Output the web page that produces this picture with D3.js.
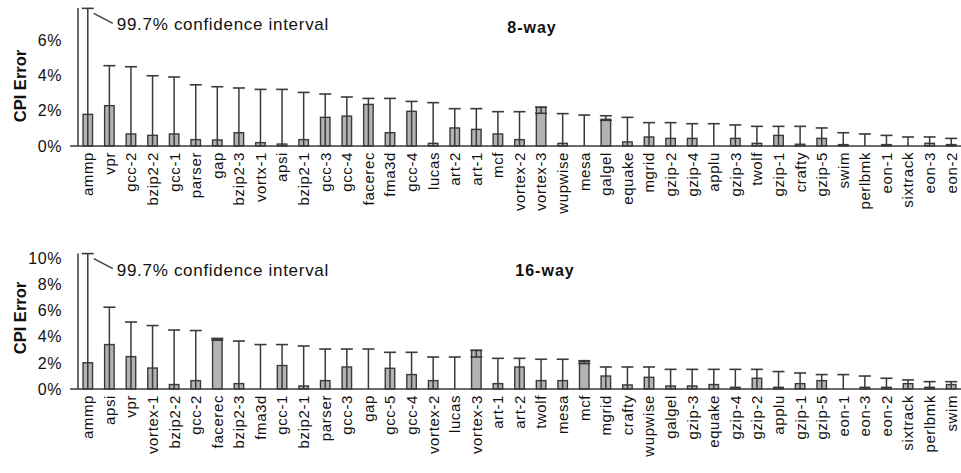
<!DOCTYPE html>
<html>
<head>
<meta charset="utf-8">
<script src="https://cdn.jsdelivr.net/npm/d3@7"></script>
<style>
  body { margin: 0; background: #fff; }
  text { font-family: "Liberation Sans", Arial, sans-serif; fill: #111; }
  .tick-label { font-size: 16px; letter-spacing: 0.6px; }
  .cat { font-size: 15px; letter-spacing: 0.6px; }
  .ylab { font-size: 16.5px; font-weight: bold; }
  .title { font-size: 16px; font-weight: bold; letter-spacing: 1px; }
  .note { font-size: 17px; letter-spacing: 0.7px; }
</style>
</head>
<body>
<div id="viz"></div>
<script>
const width = 961;
const height = 473;

// 8-way
const names8 = ["ammp","vpr","gcc-2","bzip2-2","gcc-1","parser","gap","bzip2-3","vortx-1","apsi",
  "bzip2-1","gcc-3","gcc-4","facerec","fma3d","gcc-4 ","lucas","art-2","art-1","mcf",
  "vortex-2","vortex-3","wupwise","mesa","galgel","equake","mgrid","gzip-2","gzip-4","applu",
  "gzip-3","twolf","gzip-1","crafty","gzip-5","swim","perlbmk","eon-1","sixtrack","eon-3","eon-2"];
const err8 = [1.79,2.28,0.68,0.60,0.68,0.36,0.34,0.75,0.19,0.11,
  0.36,1.62,1.69,2.35,0.75,1.96,0.15,1.02,0.94,0.68,
  0.36,2.19,0.15,0,1.51,0.23,0.51,0.43,0.43,0,
  0.43,0.15,0.60,0.10,0.43,0.08,0,0.08,0,0.15,0.08];
const lo8 = [0,0,0,0,0,0,0,0,0,0,
  0,0,0,0,0,0,0,0,0,0,
  0,1.85,0,0,1.45,0,0,0,0,0,
  0,0,0,0,0,0,0,0,0,0,0];
const hi8 = [7.78,4.54,4.48,3.97,3.90,3.46,3.35,3.28,3.20,3.20,
  3.03,2.94,2.77,2.69,2.69,2.52,2.45,2.11,2.11,1.94,
  1.94,2.19,1.83,1.75,1.71,1.62,1.32,1.32,1.26,1.26,
  1.19,1.11,1.11,1.11,1.02,0.75,0.68,0.60,0.51,0.51,0.43];
const ticks8 = [0, 2, 4, 6];

// 16-way
const names16 = ["ammp","apsi","vpr","vortex-1","bzip2-2","gcc-2","facerec","bzip2-3","fma3d","gcc-1",
  "bzip2-1","parser","gcc-3","gap","gcc-5","gcc-4","vortex-2","lucas","vortex-3","art-1",
  "art-2","twolf","mesa","mcf","mgrid","crafty","wupwise","galgel","gzip-3","equake",
  "gzip-4","gzip-2","applu","gzip-1","gzip-5","eon-1","eon-3","eon-2","sixtrack","perlbmk","swim"];
const err16 = [2.00,3.39,2.47,1.60,0.34,0.64,3.80,0.41,0,1.79,
  0.23,0.64,1.68,0,1.58,1.10,0.64,0,2.95,0.41,
  1.68,0.64,0.64,2.10,0.99,0.31,0.89,0.23,0.23,0.34,
  0.13,0.82,0.13,0.41,0.64,0,0.13,0.13,0.41,0.13,0.34];
const lo16 = [0,0,0,0,0,0,3.72,0,0,0,
  0,0,0,0,0,0,0,0,2.44,0,
  0,0,0,1.94,0,0,0,0,0,0,
  0,0,0,0,0,0,0,0,0,0,0];
const hi16 = [10.33,6.24,5.11,4.84,4.50,4.46,3.86,3.66,3.39,3.39,
  3.28,3.05,3.05,3.05,2.80,2.80,2.44,2.44,2.95,2.34,
  2.34,2.27,2.27,2.16,1.68,1.68,1.68,1.50,1.50,1.50,
  1.50,1.50,1.33,1.22,1.10,1.10,0.99,0.82,0.69,0.56,0.56];
const ticks16 = [0, 2, 4, 6, 8, 10];

const svg = d3.select("#viz")
    .append("svg")
    .attr("width", width)
    .attr("height", height);

const dark = "#3a3a3a";

const drawPanel = (opt) => {
    const data = opt.names.map((n, i) => ({name: n, v: opt.err[i], lo: opt.lo[i], hi: opt.hi[i]}));
    const x = d3.scaleBand()
        .domain(opt.names)
        .range([77, 962])
        .paddingInner(0.56)
        .paddingOuter(0.28);
    const y = d3.scaleLinear()
        .domain([0, opt.ymax])
        .range([opt.base, opt.top]);
    const g = svg.append("g");
    const cx = d => x(d.name) + x.bandwidth() / 2;
    const capW = 12;

    // bars
    g.selectAll("rect.bar").data(data.filter(d => d.v > 0))
        .enter().append("rect")
        .attr("class", "bar")
        .attr("x", d => x(d.name))
        .attr("width", x.bandwidth())
        .attr("y", d => y(d.v))
        .attr("height", d => y(0) - y(d.v))
        .attr("fill", "#b3b3b3")
        .attr("stroke", dark)
        .attr("stroke-width", 1.4);

    // error bars
    g.selectAll("line.whisker").data(data)
        .enter().append("line")
        .attr("x1", cx).attr("x2", cx)
        .attr("y1", d => y(Math.max(d.lo, 0)))
        .attr("y2", d => y(d.hi))
        .attr("stroke", dark)
        .attr("stroke-width", 1.5);
    g.selectAll("line.cap").data(data)
        .enter().append("line")
        .attr("x1", d => cx(d) - capW / 2).attr("x2", d => cx(d) + capW / 2)
        .attr("y1", d => y(d.hi)).attr("y2", d => y(d.hi))
        .attr("stroke", dark)
        .attr("stroke-width", 1.6);
    g.selectAll("line.lcap").data(data.filter(d => d.lo > 0))
        .enter().append("line")
        .attr("x1", d => cx(d) - capW / 2).attr("x2", d => cx(d) + capW / 2)
        .attr("y1", d => y(d.lo)).attr("y2", d => y(d.lo))
        .attr("stroke", dark)
        .attr("stroke-width", 1.6);

    // axes
    g.append("line")
        .attr("x1", 78).attr("x2", 78)
        .attr("y1", y(0)).attr("y2", y(opt.ymax))
        .attr("stroke", dark).attr("stroke-width", 1.5);
    g.append("line")
        .attr("x1", 70).attr("x2", width)
        .attr("y1", y(0)).attr("y2", y(0))
        .attr("stroke", dark).attr("stroke-width", 1.5);

    g.selectAll("text.tick-label").data(opt.ticks)
        .enter().append("text")
        .attr("class", "tick-label")
        .attr("x", 62)
        .attr("y", d => y(d))
        .attr("dy", "0.36em")
        .attr("text-anchor", "end")
        .text(d => d + "%");

    g.selectAll("text.cat").data(data)
        .enter().append("text")
        .attr("class", "cat")
        .attr("transform", d => `translate(${cx(d)}, ${y(0) + 6}) rotate(-90)`)
        .attr("dy", "0.36em")
        .attr("text-anchor", "end")
        .text(d => d.name.trim());

    g.append("text")
        .attr("class", "ylab")
        .attr("transform", `translate(20, ${opt.ylabY}) rotate(-90)`)
        .attr("dy", "0.36em")
        .attr("text-anchor", "middle")
        .text("CPI Error");

    g.append("text")
        .attr("class", "title")
        .attr("x", opt.titleX)
        .attr("y", opt.titleY)
        .attr("dy", "0.36em")
        .attr("text-anchor", "middle")
        .text(opt.title);

    // confidence interval note
    const ax = cx(data[0]) + 6, ay = y(data[0].hi) + 5;
    g.append("line")
        .attr("x1", ax).attr("y1", ay)
        .attr("x2", ax + 19).attr("y2", ay + 10)
        .attr("stroke", dark).attr("stroke-width", 1.2);
    g.append("text")
        .attr("class", "note")
        .attr("x", ax + 23)
        .attr("y", ay + 11)
        .attr("dy", "0.36em")
        .text("99.7% confidence interval");
};

drawPanel({names: names8, err: err8, lo: lo8, hi: hi8, ticks: ticks8,
    ymax: 7.8, base: 146, top: 8, ylabY: 86, title: "8-way", titleX: 532, titleY: 27});
drawPanel({names: names16, err: err16, lo: lo16, hi: hi16, ticks: ticks16,
    ymax: 10.33, base: 389, top: 253.6, ylabY: 318, title: "16-way", titleX: 545, titleY: 270});
</script>
</body>
</html>
